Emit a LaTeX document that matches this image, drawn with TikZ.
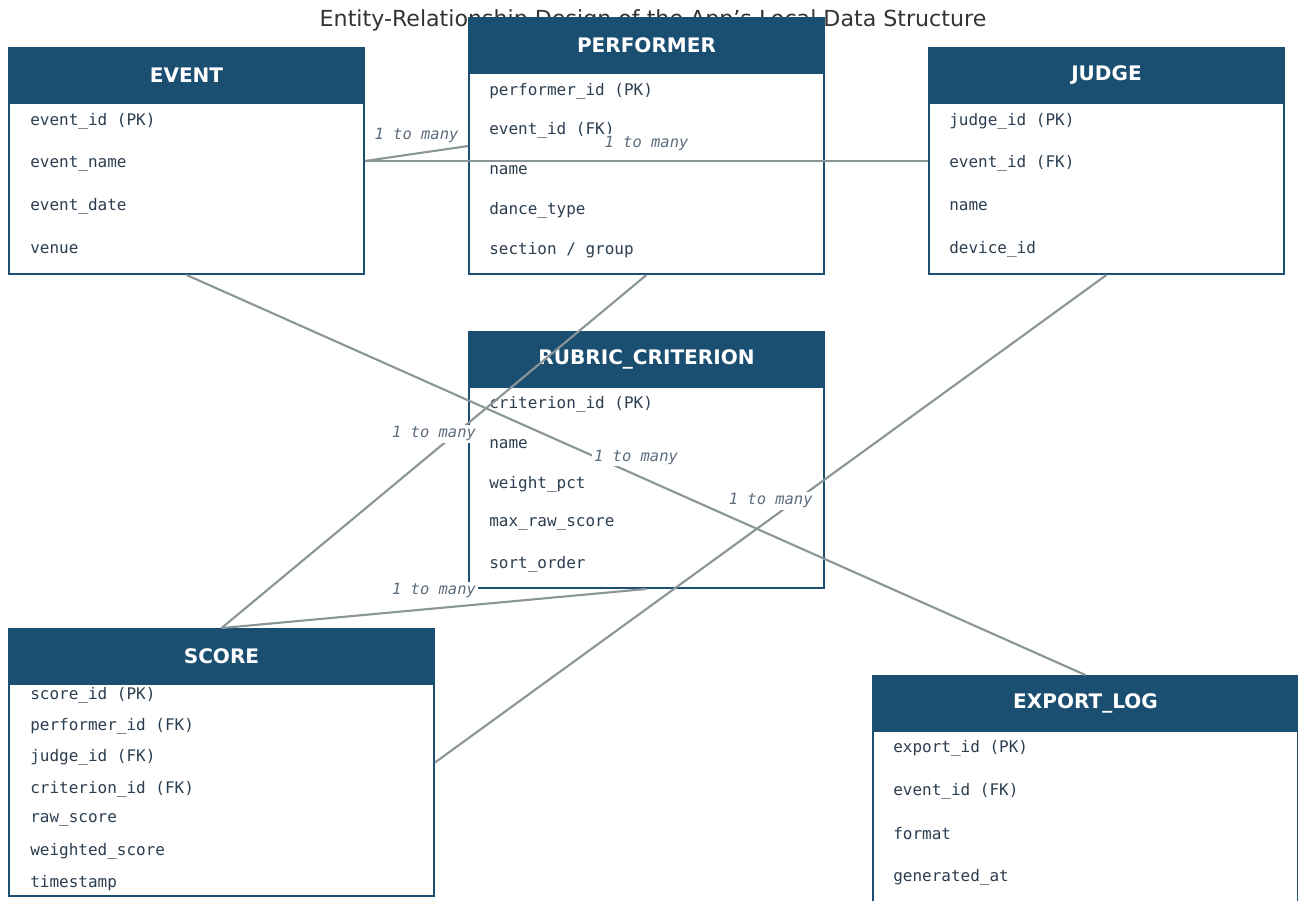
\documentclass[tikz,border=0pt]{standalone}
\usepackage{fontspec}
\setmainfont{DejaVu Sans}
\setmonofont{DejaVu Sans Mono}
\usepackage{xcolor}
\usepackage{tikz}
\usetikzlibrary{positioning,calc}
\definecolor{cHead}{HTML}{1B4F72}
\definecolor{cLink}{HTML}{8A9597}
\definecolor{cCard}{HTML}{5D6D7E}
\definecolor{cText}{HTML}{2C3E50}
\definecolor{cTitle}{HTML}{333333}
\tikzset{
  er/table/.style={draw=cHead, line width=1.1pt, fill=white,
                   minimum width=7.1cm, inner sep=0pt},
  er/widetable/.style={er/table, minimum width=8.5cm},
  er/head/.style={draw=cHead, fill=cHead, line width=1.1pt, text=white,
                  font=\fontsize{11.4}{13}\selectfont\bfseries,
                  minimum height=1.1cm, anchor=north, inner sep=0pt},
  er/field/.style={anchor=west, inner sep=0pt, text=cText,
                   font=\ttfamily\fontsize{9.1}{11}\selectfont},
  er/link/.style={draw=cLink, line width=1.2pt},
  er/card/.style={font=\ttfamily\itshape\fontsize{8.8}{10}\selectfont,
                  text=cCard, fill=white, inner sep=1pt, yshift=0.36cm},
  er/title/.style={font=\fontsize{12.6}{15}\selectfont, text=cTitle}
}

\begin{document}
\begin{tikzpicture}[x=0.02cm, y=-0.02cm]
    \useasboundingbox (0,0) rectangle (1298,900);
    \clip (0,0) rectangle (1298,900);

    % --- title ---
    \node[er/title] (title) at (653,20)
         {Entity-Relationship Design of the App's Local Data Structure};

    % --- tables ---
    \node[er/table, minimum height=4.52cm] (event) at (186.5,161) {};
    \node[er/head, minimum width=7.1cm] (event-h) at (event.north) {EVENT};
    \foreach \f [count=\i from 0] in {event\_id (PK), event\_name, event\_date, venue}
      \node[er/field] (event-f\i) at (30,{121+42.7*\i}) {\f};

    \node[er/table, minimum height=5.12cm] (performer) at (646.5,146) {};
    \node[er/head, minimum width=7.1cm] (performer-h) at (performer.north) {PERFORMER};
    \foreach \f [count=\i from 0] in {performer\_id (PK), event\_id (FK), name,
                                      dance\_type, section / group}
      \node[er/field] (performer-f\i) at (489,{91+39.8*\i}) {\f};

    \node[er/table, minimum height=4.52cm] (judge) at (1106.5,161) {};
    \node[er/head, minimum width=7.1cm] (judge-h) at (judge.north) {JUDGE};
    \foreach \f [count=\i from 0] in {judge\_id (PK), event\_id (FK), name, device\_id}
      \node[er/field] (judge-f\i) at (949,{121+42.7*\i}) {\f};

    \node[er/table, minimum height=5.12cm] (rubric) at (646.5,460) {};
    \node[er/head, minimum width=7.1cm] (rubric-h) at (rubric.north) {RUBRIC\_CRITERION};
    \foreach \f [count=\i from 0] in {criterion\_id (PK), name, weight\_pct,
                                      max\_raw\_score, sort\_order}
      \node[er/field] (rubric-f\i) at (489,{404+40*\i}) {\f};

    \node[er/widetable, minimum height=5.34cm] (score) at (221.5,762.5) {};
    \node[er/head, minimum width=8.5cm] (score-h) at (score.north) {SCORE};
    \foreach \f [count=\i from 0] in {score\_id (PK), performer\_id (FK), judge\_id (FK),
                                      criterion\_id (FK), raw\_score, weighted\_score, timestamp}
      \node[er/field] (score-f\i) at (30,{695+31.3*\i}) {\f};

    \node[er/widetable, minimum height=6cm] (exportlog) at (1085.5,826) {};
    \node[er/head, minimum width=8.5cm] (exportlog-h) at (exportlog.north) {EXPORT\_LOG};
    \foreach \f [count=\i from 0] in {export\_id (PK), event\_id (FK), format, generated\_at}
      \node[er/field] (exportlog-f\i) at (893,{748+43*\i}) {\f};

    % --- relationships ---
    \draw[er/link] (event.east) -- node[er/card] {1 to many} (performer.west);
    \draw[er/link] (event.east) -- node[er/card] {1 to many} (judge.west);
    \draw[er/link] (event.south) -- node[er/card] {1 to many} (exportlog.north);
    \draw[er/link] (performer.south) -- node[er/card] {1 to many} (score.north);
    \draw[er/link] (judge.south) -- node[er/card] {1 to many} (score.east);
    \draw[er/link] (rubric.south) -- node[er/card] {1 to many} (score.north);
\end{tikzpicture}
\end{document}
